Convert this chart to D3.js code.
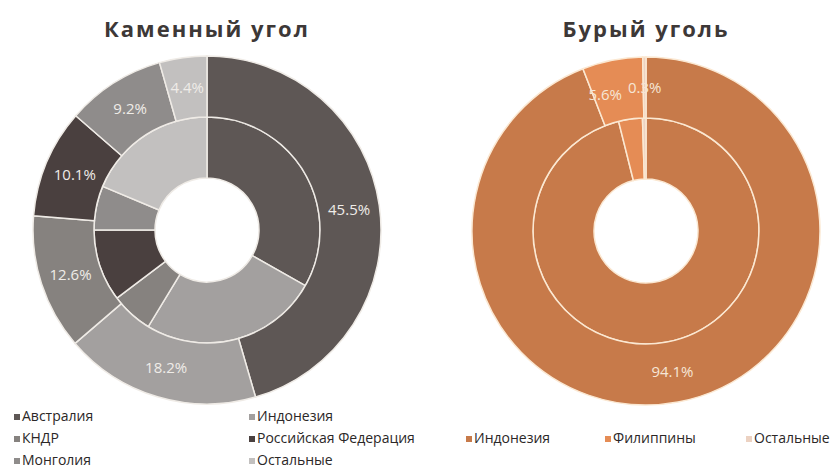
<!DOCTYPE html>
<html>
<head>
<meta charset="utf-8">
<script src="https://cdn.jsdelivr.net/npm/d3@7"></script>
<style>
  body { margin: 0; background: #fff; }
  svg text { font-family: "Open Sans", "DejaVu Sans", sans-serif; }
  .title { font-weight: 700; fill: #3d3837; }
  .legend text { fill: #2b2727; }
</style>
</head>
<body>
<div id="chart"></div>
<script>

// Каменный угол: внешнее кольцо - подписанные доли, внутреннее - без подписей
const hardCats  = ['Австралия', 'Индонезия', 'КНДР', 'Российская Федерация', 'Монголия', 'Остальные'];
const hardOuter = [45.5, 18.2, 12.6, 10.1, 9.2, 4.4];
const hardInner = [33.2, 25.5, 6.0, 10.3, 6.3, 18.7];

// Бурый уголь
const brownCats  = ['Индонезия', 'Филиппины', 'Остальные'];
const brownOuter = [94.1, 5.6, 0.3];
const brownInner = [96.1, 3.4, 0.5];

const hardColors  = ['#5e5755', '#a3a09f', '#86827f', '#4a403f', '#8f8c8b', '#c2c0bf'],
      brownColors = ['#c77a4a', '#e58c55', '#ecd2c2'];

const width  = 838,
      height = 468;

const rHole  = 52,
      rMid   = 113,
      rOuter = 174;

const svg = d3.select('#chart').append('svg')
  .attr('width', width)
  .attr('height', height);

const pie = d3.pie().sort(null).value(d => d);

function drawDonut(cfg) {

  const g = svg.append('g')
    .attr('transform', `translate(${cfg.cx}, ${cfg.cy})`);

  const colour = d3.scaleOrdinal().domain(cfg.cats).range(cfg.colors);

  const arcInner = d3.arc().innerRadius(rHole).outerRadius(rMid),
        arcOuter = d3.arc().innerRadius(rMid).outerRadius(rOuter);

  const innerArcs = pie(cfg.inner),
        outerArcs = pie(cfg.outer);

  g.append('g').selectAll('path')
    .data(innerArcs)
    .join('path')
    .attr('d', arcInner)
    .attr('fill', (d, i) => colour(cfg.cats[i]))
    .attr('stroke', cfg.stroke)
    .attr('stroke-width', 1.5);

  g.append('g').selectAll('path')
    .data(outerArcs)
    .join('path')
    .attr('d', arcOuter)
    .attr('fill', (d, i) => colour(cfg.cats[i]))
    .attr('stroke', cfg.stroke)
    .attr('stroke-width', 1.5);

  // labels sit on the outer ring centroids
  const labels = g.append('g').selectAll('text')
    .data(outerArcs)
    .join('text')
    .attr('text-anchor', 'middle')
    .attr('dy', '0.35em')
    .attr('transform', d => `translate(${arcOuter.centroid(d)})`)
    .attr('fill', cfg.labelColor)
    .style('font-size', '15px')
    .text(d => d.data.toFixed(1) + '%');

  // crude overlap fix: push a label left if it runs into the next one
  const nodes = labels.nodes();
  for (let i = nodes.length - 2; i >= 0; i--) {
    const a = nodes[i].getBBox(),
          b = nodes[i + 1].getBBox(),
          pa = arcOuter.centroid(outerArcs[i]),
          pb = arcOuter.centroid(outerArcs[i + 1]);
    const aRight = pa[0] + a.width / 2,
          bLeft  = pb[0] - b.width / 2;
    if (Math.abs(pa[1] - pb[1]) < a.height && aRight > bLeft - 6) {
      const shift = aRight - bLeft + 6;
      d3.select(nodes[i]).attr('transform', `translate(${pa[0] - shift}, ${pa[1] + 5})`);
    }
  }

  svg.append('text')
    .classed('title', true)
    .attr('x', cfg.cx)
    .attr('y', 37)
    .attr('text-anchor', 'middle')
    .style('font-size', '22px')
    .style('letter-spacing', '2px')
    .text(cfg.title);

  const legend = svg.append('g').classed('legend', true);

  cfg.cats.forEach((c, i) => {
    const pos = cfg.legendPos(i);
    const item = legend.append('g')
      .attr('transform', `translate(${pos[0]}, ${pos[1]})`);
    item.append('rect')
      .attr('x', 0)
      .attr('y', -7)
      .attr('width', 6)
      .attr('height', 6)
      .attr('fill', colour(c));
    item.append('text')
      .attr('x', 8)
      .attr('y', 0)
      .style('font-size', '14px')
      .text(c);
  });

}

drawDonut({
  title: 'Каменный угол',
  cx: 207,
  cy: 230,
  cats: hardCats,
  outer: hardOuter,
  inner: hardInner,
  colors: hardColors,
  stroke: '#efebe6',
  labelColor: '#efece8',
  legendPos: i => [14 + (i % 2) * 235, 421 + Math.floor(i / 2) * 22]
});

drawDonut({
  title: 'Бурый уголь',
  cx: 646,
  cy: 231,
  cats: brownCats,
  outer: brownOuter,
  inner: brownInner,
  colors: brownColors,
  stroke: '#fbe8d2',
  labelColor: '#f6e6d6',
  legendPos: i => [[466, 605, 746][i], 443]
});

</script>
</body>
</html>
